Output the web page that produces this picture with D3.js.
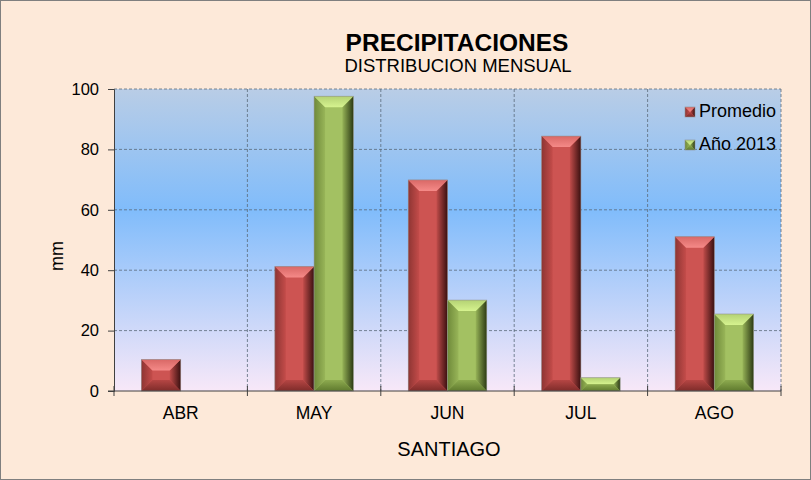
<!DOCTYPE html>
<html>
<head>
<meta charset="utf-8">
<script src="https://cdn.jsdelivr.net/npm/d3@7"></script>
<style>
  body { margin: 0; background: #fde9d9; }
  svg text { font-family: Arial, "Liberation Sans", sans-serif; fill: #000; }
</style>
</head>
<body>
<div id="chart"></div>
<script>
// Datos
let meses = ['ABR', 'MAY', 'JUN', 'JUL', 'AGO'];
let series = ['Promedio', 'Año 2013'];
let promedio = [10.4, 41.2, 69.9, 84.4, 51.1];
let anio2013 = [0, 97.6, 30.1, 4.4, 25.5];
let yTicks = [0, 20, 40, 60, 80, 100];

let W = 811, H = 480;
let margin = {top: 89, right: 30, bottom: 89, left: 114};
let width = 781 - margin.left, height = 391 - margin.top;

let svg = d3.select('#chart').append('svg')
    .attr('width', W).attr('height', H);

let defs = svg.append('defs');
let grad = function(id, vertical, stops) {
    let g = defs.append('linearGradient').attr('id', id)
        .attr('x1', 0).attr('y1', 0).attr('x2', vertical ? 0 : 1).attr('y2', vertical ? 1 : 0);
    stops.forEach(function(s) { g.append('stop').attr('offset', s[0]).attr('stop-color', s[1]); });
};
grad('plotBg', true, [['0%', '#b9cde6'], ['40%', '#80bcfb'], ['100%', '#f8e8f8']]);

// Fondo y marco
svg.append('rect').attr('x', 0.5).attr('y', 0.5).attr('width', W - 1).attr('height', H - 1)
    .attr('fill', '#fde9d9').attr('stroke', '#7f7f7f');

let chart = svg.append('g').attr('transform', `translate(${margin.left},${margin.top})`);

chart.append('rect').attr('width', width).attr('height', height).attr('fill', 'url(#plotBg)');

let x = d3.scaleBand().domain(meses).range([0, width]);
let xs = d3.scaleBand().domain(series).range([0, x.bandwidth()]).paddingInner(0).paddingOuter(0.7);
let y = d3.scaleLinear().domain([0, 100]).range([height, 0]);

// Rejilla
chart.append('g').selectAll('line').data(yTicks.filter(d => d > 0)).enter().append('line')
    .attr('x1', 0).attr('x2', width)
    .attr('y1', d => y(d)).attr('y2', d => y(d))
    .attr('stroke', '#5a6a7a').attr('stroke-dasharray', '3,2').attr('stroke-width', 0.8);
chart.append('g').selectAll('line').data(meses.slice(1).concat(['end'])).enter().append('line')
    .attr('x1', d => d == 'end' ? width : x(d)).attr('x2', d => d == 'end' ? width : x(d))
    .attr('y1', 0).attr('y2', height)
    .attr('stroke', '#5a6a7a').attr('stroke-dasharray', '3,2').attr('stroke-width', 0.8);

// Colores y gradientes del bisel
let colores = {
    'Promedio': {id: 'r', face: '#cd5452', top: ['#d96866', '#f58a88'], bottom: ['#b54644', '#7e2b29'],
                 left: ['#8e3533', '#c44c4a'], right: ['#c04c4a', '#3a1010']},
    'Año 2013': {id: 'g', face: '#a3c162', top: ['#b4d274', '#d6f38f'], bottom: ['#8daa4f', '#5f7a2e'],
                 left: ['#6f8a3a', '#98b558'], right: ['#96b357', '#2c3a14']}
};
series.forEach(function(s) {
    let c = colores[s];
    grad(c.id + 'top', true, [['0%', c.top[0]], ['100%', c.top[1]]]);
    grad(c.id + 'bottom', true, [['0%', c.bottom[0]], ['100%', c.bottom[1]]]);
    grad(c.id + 'left', false, [['0%', c.left[0]], ['100%', c.left[1]]]);
    grad(c.id + 'right', false, [['0%', c.right[0]], ['100%', c.right[1]]]);
});

let datos = [];
meses.forEach(function(m, i) {
    datos.push({mes: m, serie: 'Promedio', valor: promedio[i]});
    datos.push({mes: m, serie: 'Año 2013', valor: anio2013[i]});
});

let bevelBox = function(g, c, x0, x1, y0, y1, bmax) {
    let b = Math.min(bmax, (y1 - y0) / 2, (x1 - x0) / 2);
    g.append('rect').attr('x', x0).attr('y', y0).attr('width', x1 - x0).attr('height', y1 - y0).attr('fill', c.face);
    let poly = function(pts, fill) {
        g.append('polygon').attr('points', pts.map(p => p.join(',')).join(' ')).attr('fill', fill);
    };
    poly([[x0, y0], [x0 + b, y0 + b], [x0 + b, y1 - b], [x0, y1]], `url(#${c.id}left)`);
    poly([[x1, y0], [x1 - b, y0 + b], [x1 - b, y1 - b], [x1, y1]], `url(#${c.id}right)`);
    poly([[x0, y0], [x1, y0], [x1 - b, y0 + b], [x0 + b, y0 + b]], `url(#${c.id}top)`);
    poly([[x0, y1], [x1, y1], [x1 - b, y1 - b], [x0 + b, y1 - b]], `url(#${c.id}bottom)`);
    g.append('rect').attr('x', x0).attr('y', y0).attr('width', x1 - x0).attr('height', y1 - y0)
        .attr('fill', 'none').attr('stroke', '#909090').attr('stroke-width', 0.7).attr('stroke-opacity', 0.8);
};

chart.append('g').selectAll('g').data(datos.filter(d => d.valor > 0)).enter().append('g')
    .each(function(d) {
        let x0 = x(d.mes) + xs(d.serie);
        bevelBox(d3.select(this), colores[d.serie], x0, x0 + xs.bandwidth(), y(d.valor), y(0), 11);
    });

// Ejes
let yAxis = chart.append('g')
    .call(d3.axisLeft(y).tickValues(yTicks).tickSize(6).tickPadding(9));
yAxis.select('.domain').attr('stroke', '#404040');
yAxis.selectAll('.tick line').attr('stroke', '#404040');
yAxis.selectAll('.tick text').style('font-size', '16.5px');

let xAxisG = chart.append('g').attr('transform', `translate(0,${height})`);
xAxisG.append('line').attr('x1', -6).attr('x2', width).attr('stroke', '#404040');
xAxisG.selectAll('.tk').data(meses.concat(['end'])).enter().append('line')
    .attr('x1', d => d == 'end' ? width : x(d)).attr('x2', d => d == 'end' ? width : x(d))
    .attr('y1', -5).attr('y2', 5).attr('stroke', '#404040');
xAxisG.selectAll('text').data(meses).enter().append('text')
    .attr('x', d => x(d) + x.bandwidth() / 2).attr('y', 28)
    .attr('text-anchor', 'middle').style('font-size', '17.5px').text(d => d);

// Títulos
svg.append('text').attr('x', 457).attr('y', 51).attr('text-anchor', 'middle')
    .style('font-size', '24.5px').style('font-weight', 'bold').text('PRECIPITACIONES');
svg.append('text').attr('x', 458).attr('y', 72).attr('text-anchor', 'middle')
    .style('font-size', '18.5px').text('DISTRIBUCION MENSUAL');
svg.append('text').attr('transform', 'translate(63,256) rotate(-90)').attr('text-anchor', 'middle')
    .style('font-size', '18px').text('mm');
svg.append('text').attr('x', 449).attr('y', 456).attr('text-anchor', 'middle')
    .style('font-size', '20px').text('SANTIAGO');

// Leyenda
let legend = svg.append('g').selectAll('g').data(series).enter().append('g')
    .attr('transform', (d, i) => `translate(685,${107 + i * 33})`);
legend.each(function(d) {
    bevelBox(d3.select(this), colores[d], 0, 10, 0, 10, 5);
    d3.select(this).append('text').attr('x', 14).attr('y', 10).style('font-size', '18px').text(d);
});
</script>
</body>
</html>
